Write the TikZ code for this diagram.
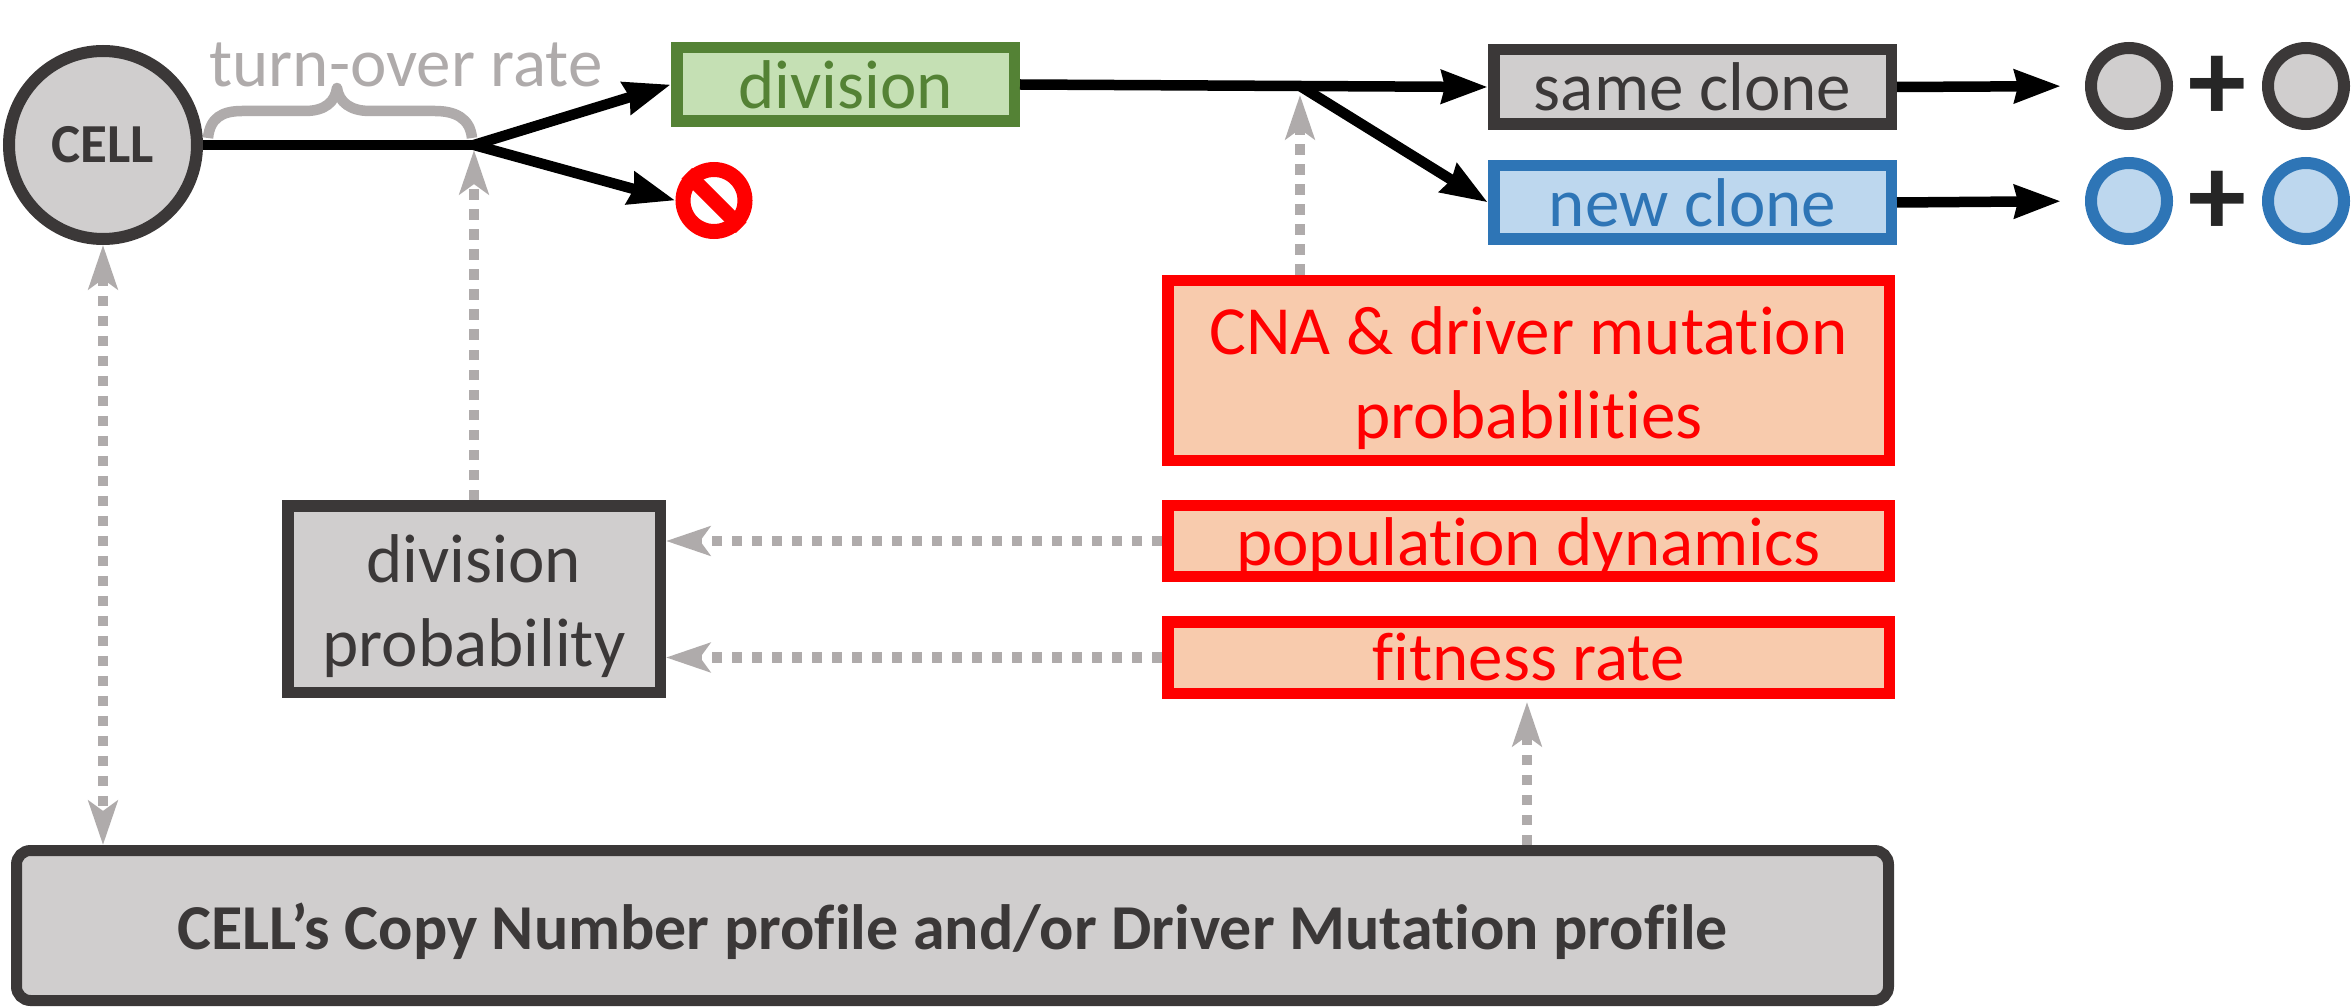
\documentclass[tikz,border=0pt]{standalone}
\usepackage{fontspec}
\setmainfont[Ligatures=NoCommon]{Carlito}
\usetikzlibrary{arrows.meta}
\definecolor{ink}{HTML}{3B3838}
\definecolor{cgrey}{HTML}{D0CECE}
\definecolor{lgrey}{HTML}{AFABAB}
\definecolor{gborder}{HTML}{548235}
\definecolor{gfill}{HTML}{C5E0B4}
\definecolor{bborder}{HTML}{2E75B6}
\definecolor{bfill}{HTML}{BDD7EE}
\definecolor{ofill}{HTML}{F8CBAD}
\definecolor{plusink}{HTML}{262626}
\newcommand{\fs}[1]{\fontsize{#1pt}{84pt}\selectfont}
\newcommand{\lift}[1]{\rule{0pt}{#1pt}}
\tikzset{
  x=1pt,y=-1pt,
  box/.style={draw,line width=11.5pt,inner sep=0pt,align=center,font=\fs{69}},
  greybox/.style={box,draw=ink,fill=cgrey,text=ink},
  greenbox/.style={box,draw=gborder,fill=gfill,text=gborder},
  bluebox/.style={box,draw=bborder,fill=bfill,text=bborder},
  redbox/.style={box,draw=red,fill=ofill,text=red},
  dot/.style={circle,draw,line width=12pt,minimum size=76pt,inner sep=0pt},
  greydot/.style={dot,draw=ink,fill=cgrey},
  bluedot/.style={dot,draw=bborder,fill=bfill},
  plussign/.style={inner sep=0pt,text=plusink,font=\fs{116}\bfseries},
  flow/.style={line width=10.5pt,draw=black,-{Stealth[length=46pt,width=32pt,inset=3pt]}},
  plainline/.style={line width=10.5pt,draw=black},
  hint/.style={line width=10.5pt,draw=lgrey,dash pattern=on 10.5pt off 9.5pt,-{Stealth[length=44pt,width=29pt,inset=10pt]}},
  hintboth/.style={hint,{Stealth[length=44pt,width=29pt,inset=10pt]}-{Stealth[length=44pt,width=29pt,inset=10pt]}}
}
\begin{document}
\begin{tikzpicture}
\useasboundingbox[fill=white] (0,0) rectangle (2351,1008);
% nodes
\node[circle,draw=ink,fill=cgrey,line width=12pt,minimum size=188pt,inner sep=0pt,text=ink,font=\fs{55}\bfseries] (cell) at (103,145) {CELL};
\node[inner sep=0pt,text=lgrey,font=\fs{69},anchor=base] (turn) at (406,87) {turn-over rate};
\node[greenbox,minimum width=337.5pt,minimum height=73.5pt] (division) at (845.5,84.5) {division};
\node[circle,draw=red,fill=white,line width=15pt,minimum size=62pt,inner sep=0pt] (stop) at (714,200.5) {};
\node[greybox,minimum width=397.5pt,minimum height=74.5pt] (same) at (1692.5,87) {same clone};
\node[bluebox,minimum width=397.5pt,minimum height=73.5pt] (new) at (1692.5,202.5) {new clone};
\node[greydot] (sa) at (2129,86) {};
\node[greydot] (sb) at (2306,86) {};
\node[bluedot] (na) at (2129,201) {};
\node[bluedot] (nb) at (2306,201) {};
\node[plussign] (sp) at (2217,88) {+};
\node[plussign] (np) at (2217,203) {+};
\node[redbox,minimum width=721.5pt,minimum height=179.5pt] (cna) at (1528.5,370.5) {\lift{64}CNA \& driver mutation\\probabilities};
\node[redbox,minimum width=721.5pt,minimum height=70.5pt] (pop) at (1528.5,541) {\lift{60}population dynamics};
\node[redbox,minimum width=721.5pt,minimum height=71.5pt] (fit) at (1528.5,657.5) {fitness rate};
\node[greybox,minimum width=372.5pt,minimum height=186.5pt] (dp) at (474,599) {\lift{62}division\\probability};
\node[draw=ink,fill=cgrey,line width=11pt,rounded corners=14pt,minimum width=1872pt,minimum height=150pt,inner sep=0pt,text=ink,font=\fs{64}\bfseries] (prof) at (952.5,925.5) {\lift{59}CELL’s Copy Number profile and/or Driver Mutation profile};
% junctions
\coordinate (ja) at (474,145);
\coordinate (jb) at (1300,86);
\coordinate (jc) at (1527,780);
% brace
\draw[lgrey,line width=10.5pt,line join=round] (208,138) .. controls (210,118) and (222,111) .. (242,111) -- (305,111) .. controls (325,111) and (335,102) .. (337,88) .. controls (339,102) and (350,111) .. (370,111) -- (435,111) .. controls (455,111) and (470,118) .. (472,138);
% stop bar
\draw[red,line width=15pt] (stop.135) -- (stop.-45);
% solid flow
\draw[plainline] (cell.east) -- (ja);
\draw[flow] (ja) -- (division.west);
\draw[flow] (ja) -- (stop.west);
\draw[flow] (division.east) -- (same.west);
\draw[flow] (jb) -- (new.west);
\draw[flow,shorten >=24pt] (same.east) -- (sa.west);
\draw[flow,shorten >=24pt] (new.east) -- (na.west);
% dotted influences
\draw[hintboth] (cell.south) -- (cell.south |- prof.north);
\draw[hint,shorten >=5pt] (dp.north) -- (ja);
\draw[hint,shorten >=9pt] (cna.north -| jb) -- (jb);
\draw[hint] (pop.west) -- (dp.east |- pop.west);
\draw[hint] (fit.west) -- (dp.east |- fit.west);
\draw[hint,shorten >=3pt] (prof.north -| jc) -- (fit.south -| jc);
\end{tikzpicture}
\end{document}
